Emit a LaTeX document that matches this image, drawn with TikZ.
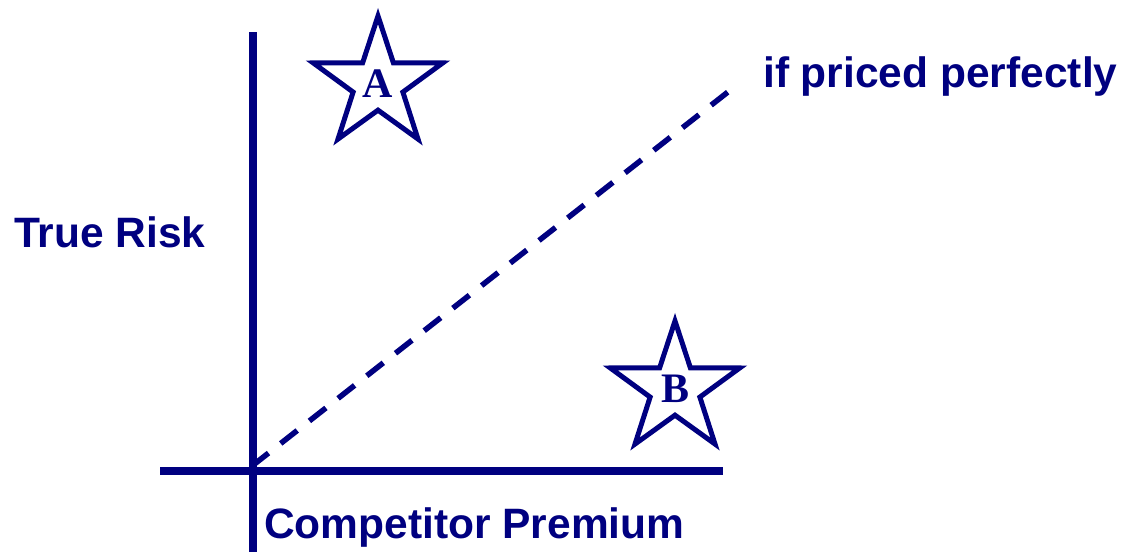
\documentclass[tikz,border=0pt]{standalone}
\usepackage{fontspec}
\setmainfont{Liberation Sans}
\newfontfamily\starfont{Liberation Serif}
\usepackage{tikz}
\usetikzlibrary{shapes.geometric}
\definecolor{plotnavy}{HTML}{000080}
\tikzset{
  axisline/.style={line width=8pt,draw=plotnavy},
  fairline/.style={line width=5.5pt,draw=plotnavy,dash pattern=on 21pt off 15.5pt},
  axislabel/.style={font=\fontsize{42.5}{50}\selectfont\bfseries,text=plotnavy,
    inner sep=0pt,anchor=base west},
  riskstar/.style={star,star points=5,star point ratio=2.6,minimum size=136pt,
    inner sep=0pt,line width=5pt,draw=plotnavy,fill=white,text=plotnavy,
    font=\starfont\fontsize{42}{50}\selectfont\bfseries}
}
\begin{document}
\begin{tikzpicture}[x=1pt,y=-1pt]
  \useasboundingbox (0,0) rectangle (1123,552);
  % axes
  \coordinate (ytop) at (252.5,32);
  \coordinate (ybot) at (252.5,552);
  \coordinate (xleft) at (160,471);
  \coordinate (xright) at (723,471);
  \draw[axisline] (ytop) -- (ybot);
  \draw[axisline] (xleft) -- (xright);
  % line of perfect pricing
  \coordinate (origin) at (252,466);
  \coordinate (fairend) at (733,88);
  \draw[fairline] (origin) -- (fairend);
  % labels
  \node[axislabel] (truerisk) at (14,247) {True Risk};
  \node[axislabel] (premium) at (264,538) {Competitor Premium};
  \node[axislabel] (priced) at (763,87) {if priced perfectly};
  % the two risks
  \node[riskstar] (starA) at (378,84) {A};
  \node[riskstar] (starB) at (675,389) {B};
\end{tikzpicture}
\end{document}
